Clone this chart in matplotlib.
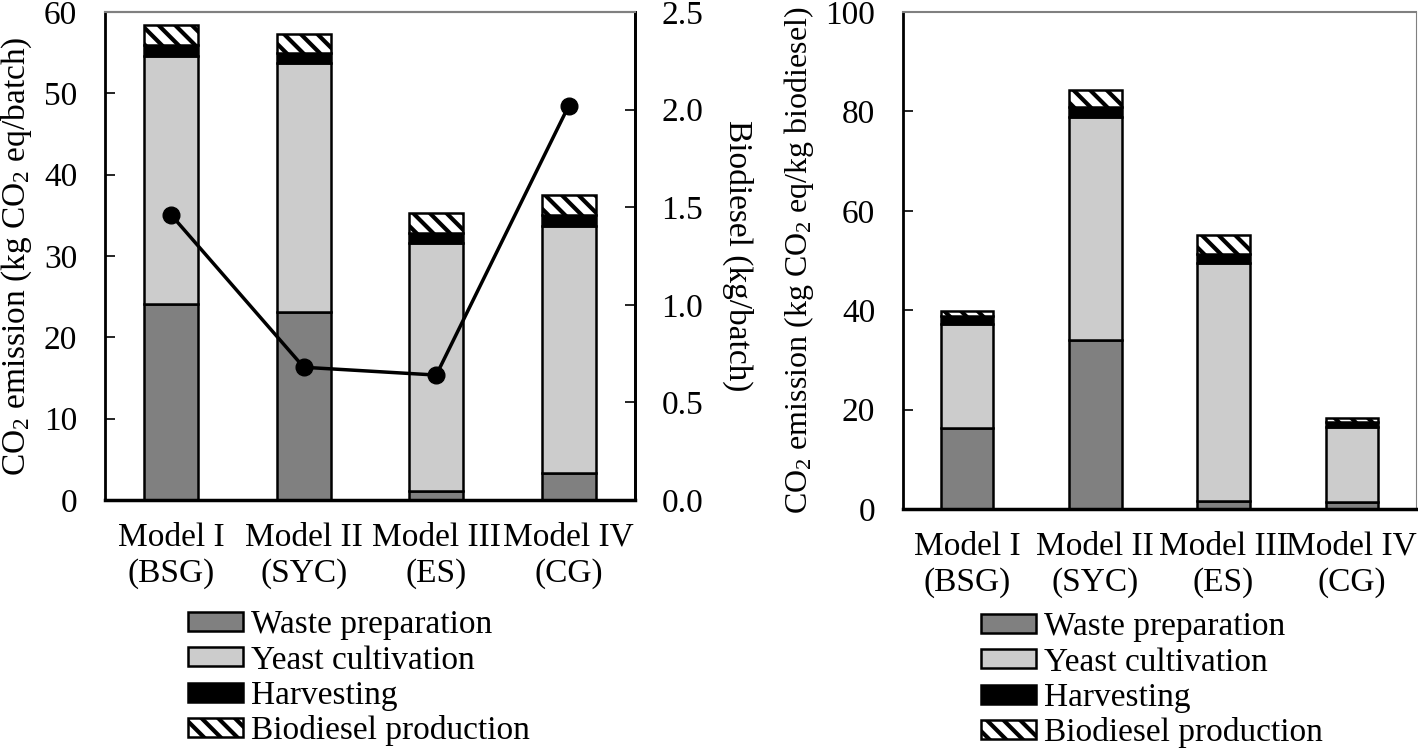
import matplotlib
matplotlib.use("Agg")
import matplotlib.pyplot as plt
import numpy as np

plt.rcParams["font.family"] = ["Liberation Serif", "DejaVu Serif"]
plt.rcParams["mathtext.fontset"] = "custom"
plt.rcParams["mathtext.rm"] = "Liberation Serif"
plt.rcParams["mathtext.it"] = "Liberation Serif:italic"
plt.rcParams["mathtext.default"] = "regular"
plt.rcParams["hatch.linewidth"] = 3.0

# categories
models = ["Model I\n(BSG)", "Model II\n(SYC)", "Model III\n(ES)", "Model IV\n(CG)"]
stages = ["Waste preparation", "Yeast cultivation", "Harvesting", "Biodiesel production"]

# left chart: kg CO2 eq / batch
batch_waste = [24.1, 23.1, 1.1, 3.3]
batch_yeast = [30.5, 30.6, 30.5, 30.4]
batch_harvest = [1.3, 1.3, 1.2, 1.3]
batch_biodiesel = [2.5, 2.3, 2.5, 2.5]

# biodiesel yield, kg / batch (secondary axis)
biodiesel_yield = [1.46, 0.68, 0.64, 2.02]

# right chart: kg CO2 eq / kg biodiesel
kg_waste = [16.3, 34.1, 1.6, 1.5]
kg_yeast = [21.0, 44.7, 47.8, 15.0]
kg_harvest = [1.5, 2.0, 2.0, 1.0]
kg_biodiesel = [1.1, 3.5, 3.8, 0.8]

colors = ["#808080", "#cccccc", "#000000", "white"]
hatches = [None, None, None, "\\\\"]

FS = 24


def stacked(ax, series):
    x = np.arange(len(models))
    bottom = np.zeros(len(models))
    handles = []
    for vals, c, h, lab in zip(series, colors, hatches, stages):
        b = ax.bar(x, vals, 0.41, bottom=bottom, color=c, edgecolor="black",
                   linewidth=1.8, hatch=h, label=lab, zorder=2)
        handles.append(b)
        bottom += np.array(vals)
    ax.set_xlim(-0.5, 3.5)
    ax.set_xticks(x)
    ax.set_xticklabels(models, fontsize=FS, linespacing=1.25)
    ax.tick_params(axis="x", length=0, pad=16)
    ax.tick_params(axis="y", direction="in", length=7, width=1.2, labelsize=FS, pad=20)
    ax.spines["top"].set_color("#808080")
    ax.spines["top"].set_linewidth(1.5)
    ax.spines["bottom"].set_linewidth(2.5)
    ax.spines["left"].set_linewidth(2)
    return handles


def add_legend(ax, handles, x, y):
    ax.legend(handles, stages, loc="upper left", bbox_to_anchor=(x / 1418, 1 - y / 750),
              bbox_transform=fig.transFigure, frameon=False, fontsize=FS,
              handlelength=1.65, handleheight=0.5, handletextpad=0.25,
              labelspacing=0.14, borderpad=0, borderaxespad=0)


fig = plt.figure(figsize=(14.18, 7.5), dpi=100)

ax1 = fig.add_axes([105 / 1418, 1 - 500 / 750, 530 / 1418, 488 / 750])
h1 = stacked(ax1, [batch_waste, batch_yeast, batch_harvest, batch_biodiesel])
ax1.set_ylim(0, 60)
ax1.set_yticks(range(0, 61, 10))
ax1.spines["right"].set_linewidth(2)
ax1.set_ylabel(r"CO$_2$ emission (kg CO$_2$ eq/batch)", fontsize=FS, labelpad=7)

ax2 = ax1.twinx()
ax2.plot(np.arange(len(models)), biodiesel_yield, color="black", lw=2.5,
         marker="o", markersize=12, zorder=3)
ax2.set_ylim(0, 2.5)
ax2.set_yticks(np.arange(0, 2.51, 0.5))
ax2.set_yticklabels([f"{v:.1f}" for v in np.arange(0, 2.51, 0.5)])
ax2.tick_params(axis="y", direction="in", length=7, width=1.2, labelsize=FS, pad=19)
ax2.spines["top"].set_color("#808080")
ax2.spines["top"].set_linewidth(1.5)
ax2.spines["right"].set_linewidth(2)
ax2.set_ylabel("Biodiesel (kg/batch)", fontsize=FS, rotation=270, labelpad=36)

add_legend(ax1, h1, 188, 610)

ax3 = fig.add_axes([903 / 1418, 1 - 509 / 750, 513 / 1418, 497 / 750])
h3 = stacked(ax3, [kg_waste, kg_yeast, kg_harvest, kg_biodiesel])
ax3.set_ylim(0, 100)
ax3.set_yticks(range(0, 101, 20))
ax3.spines["right"].set_color("#808080")
ax3.set_ylabel(r"CO$_2$ emission (kg CO$_2$ eq/kg biodiesel)", fontsize=23, labelpad=7)
add_legend(ax3, h3, 981, 612)

fig.savefig("out.png", dpi=100)
